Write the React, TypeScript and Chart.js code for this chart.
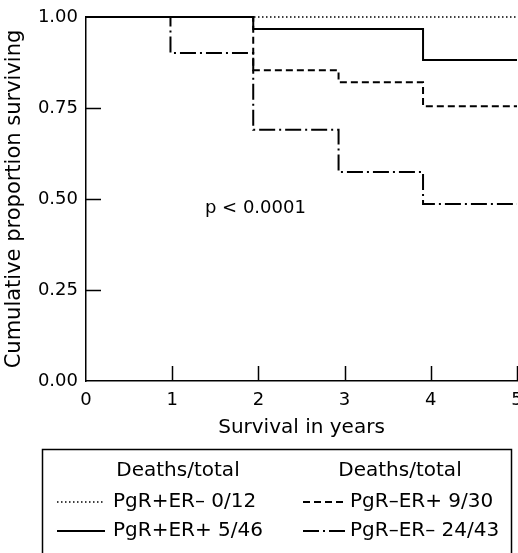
import React, { useEffect, useRef } from 'react';
import { Chart, registerables } from 'chart.js';

Chart.register(...registerables);

// ---- data ----
const seriesLabels = ['PgR+ER\u2013 0/12', 'PgR+ER+ 5/46', 'PgR\u2013ER+ 9/30', 'PgR\u2013ER\u2013 24/43'];
const timesDotted = [0, 5];
const survDotted = [1, 1];
const timesSolid = [0, 1.94, 3.91, 5];
const survSolid = [1, 0.967, 0.882, 0.882];
const timesDashed = [0, 1.94, 2.93, 3.91, 5];
const survDashed = [1, 0.854, 0.821, 0.755, 0.755];
const timesDashDot = [0, 0.98, 1.94, 2.93, 3.91, 5];
const survDashDot = [1, 0.901, 0.69, 0.574, 0.486, 0.486];
const xTicks = [0, 1, 2, 3, 4, 5];
const yTicks = [0, 0.25, 0.5, 0.75, 1];
const pValueText = 'p < 0.0001';
const pValuePos = [1.38, 0.474];
const legendHeader = 'Deaths/total';
const xTitle = 'Survival in years';
const yTitle = 'Cumulative proportion surviving';

const FONT = "'DejaVu Sans', sans-serif";
const INK = '#000';
const dashes: number[][] = [[1.5, 2.5], [], [7, 4], [16, 4, 2, 4]];
const widths = [1.5, 2, 2, 2];

export default function App() {
  const ref = useRef<HTMLCanvasElement>(null);

  useEffect(() => {
    document.body.style.margin = '0';
    const canvas = ref.current!;
    const mk = (xs: number[], ys: number[]) => xs.map((x, i) => ({ x, y: ys[i] }));
    const series = [
      mk(timesDotted, survDotted),
      mk(timesSolid, survSolid),
      mk(timesDashed, survDashed),
      mk(timesDashDot, survDashDot),
    ];

    const overlay = {
      id: 'overlay',
      afterDraw(chart: any) {
        const { ctx, chartArea: a, scales } = chart;
        const x = scales.x;
        const y = scales.y;
        ctx.save();
        ctx.strokeStyle = INK;
        ctx.lineWidth = 1.5;
        ctx.beginPath();
        for (const v of yTicks) {
          if (v === 0 || v === 1) continue;
          const py = Math.round(y.getPixelForValue(v)) + 0.5;
          ctx.moveTo(a.left, py);
          ctx.lineTo(a.left + 15, py);
        }
        for (const v of xTicks) {
          if (v === 0) continue;
          const px = Math.round(x.getPixelForValue(v)) + 0.5;
          ctx.moveTo(px, a.bottom);
          ctx.lineTo(px, a.bottom - 15);
        }
        ctx.stroke();

        ctx.fillStyle = INK;
        ctx.font = `18px ${FONT}`;
        ctx.textBaseline = 'middle';
        ctx.textAlign = 'left';
        ctx.fillText(pValueText, x.getPixelForValue(pValuePos[0]), y.getPixelForValue(pValuePos[1]));

        // legend box
        const L = { left: 42, top: 449, right: 511, bottom: 600 };
        ctx.lineWidth = 1.5;
        ctx.strokeRect(L.left + 0.5, L.top + 0.5, L.right - L.left, L.bottom - L.top);
        ctx.font = `20px ${FONT}`;
        ctx.textAlign = 'center';
        ctx.fillText(legendHeader, 178, 471);
        ctx.fillText(legendHeader, 400, 471);
        const colSample = [[57, 105], [303, 345]];
        const colText = [113, 350];
        const rowY = [502, 531];
        const order = [
          [0, 0, 0],
          [1, 0, 1],
          [2, 1, 0],
          [3, 1, 1],
        ];
        ctx.textAlign = 'left';
        for (const [si, col, row] of order) {
          const yy = rowY[row];
          ctx.beginPath();
          ctx.setLineDash(dashes[si]);
          ctx.lineWidth = widths[si];
          ctx.moveTo(colSample[col][0], yy);
          ctx.lineTo(colSample[col][1], yy);
          ctx.stroke();
          ctx.setLineDash([]);
          ctx.fillText(seriesLabels[si], colText[col], yy);
        }
        ctx.restore();
      },
    };

    const chart = new Chart(canvas, {
      type: 'line',
      data: {
        datasets: series.map((d, i) => ({
          label: seriesLabels[i],
          data: d,
          borderColor: INK,
          borderWidth: widths[i],
          borderDash: dashes[i],
          stepped: 'before' as const,
          pointRadius: 0,
          fill: false,
          clip: false as any,
        })),
      },
      options: {
        responsive: false,
        animation: false,
        devicePixelRatio: 1,
        layout: { padding: { left: 0, top: 17, right: 1, bottom: 112 } },
        plugins: { legend: { display: false }, tooltip: { enabled: false } },
        scales: {
          x: {
            type: 'linear',
            min: 0,
            max: 5,
            grid: { display: false, drawTicks: false },
            border: { display: true, color: INK, width: 1.5 },
            ticks: { stepSize: 1, color: INK, font: { family: FONT, size: 18 }, padding: 9 },
            title: {
              display: true,
              text: xTitle,
              color: INK,
              font: { family: FONT, size: 20 },
              padding: { top: 0, bottom: 1 },
            },
            afterFit(s: any) {
              s.height = 60;
              s.paddingRight = 0;
              s.paddingLeft = 0;
            },
          },
          y: {
            type: 'linear',
            min: 0,
            max: 1,
            grid: { display: false, drawTicks: false },
            border: { display: true, color: INK, width: 1.5 },
            ticks: {
              stepSize: 0.25,
              color: INK,
              font: { family: FONT, size: 18 },
              padding: 8,
              callback: (v: any) => Number(v).toFixed(2),
            },
            title: {
              display: true,
              text: yTitle,
              color: INK,
              font: { family: FONT, size: 21 },
              padding: { top: 2, bottom: 0 },
            },
            afterFit(s: any) {
              s.width = 86;
              s.paddingTop = 0;
              s.paddingBottom = 0;
            },
          },
        },
      },
      plugins: [overlay],
    });
    return () => chart.destroy();
  }, []);

  return <canvas ref={ref} width={518} height={553} style={{ display: 'block' }} />;
}
